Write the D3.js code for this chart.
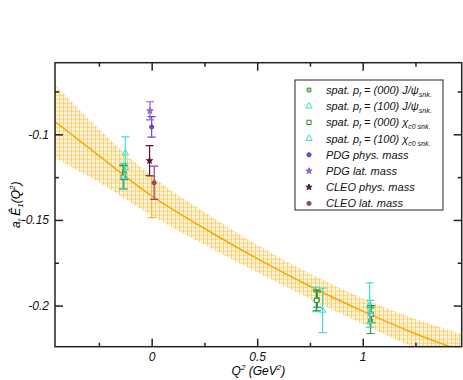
<!DOCTYPE html>
<html>
<head>
<meta charset="utf-8">
<script src="https://cdn.jsdelivr.net/npm/d3@7"></script>
<style>
  body { margin: 0; background: #fff; }
  svg { display: block; font-family: "Liberation Sans", Arial, sans-serif; }
  .tick text { font-style: italic; font-size: 12px; fill: #111; }
  .legend text { font-style: italic; font-size: 11px; fill: #111; }
</style>
</head>
<body>
<div id="chart"></div>
<script>
// fit curve and error band
var fitQ2  = [-0.46, -0.25, 0, 0.25, 0.5, 0.75, 1.0, 1.25, 1.47];
var fitMid = [-0.0924, -0.1125, -0.136, -0.155, -0.1726, -0.1887, -0.2032, -0.2164, -0.2265];
var fitErr = [0.0215, 0.0155, 0.0115, 0.0095, 0.008, 0.0073, 0.0075, 0.0085, 0.0098];

// lattice points: [Q2, value, error]
var jpsi000 = [[-0.13, -0.1225, 0.004], [0.785, -0.1965, 0.0045], [1.037, -0.2088, 0.0075]];
var jpsi100 = [[-0.125, -0.111, 0.0095], [0.778, -0.1964, 0.0072], [1.033, -0.1997, 0.013]];
var chi000  = [[-0.135, -0.125, 0.007], [0.782, -0.197, 0.006], [1.04, -0.205, 0.005]];
var chi100  = [[-0.13, -0.1245, 0.0075], [0.81, -0.2028, 0.013], [1.035, -0.2035, 0.0065]];

// experimental values at Q2 = 0
var pdgPhys  = [[0.0, -0.0957, 0.006]];
var pdgLat   = [[-0.008, -0.0863, 0.0053]];
var cleoPhys = [[-0.01, -0.1154, 0.0088]];
var cleoLat  = [[0.012, -0.1283, 0.0097]];
var fitAtZero = [[0.0, -0.1366, 0.012]];

var xMajor = [0, 0.5, 1], xMajorLabels = ["0", "0.5", "1"];
var xMinor = [-0.25, 0.25, 0.75, 1.25];
var yMajor = [-0.2, -0.15, -0.1], yMajorLabels = ["-0.2", "-0.15", "-0.1"];
var yMinor = [-0.175, -0.125, -0.075];

var svgWidth = 463, svgHeight = 380;
var margin = {top: 62.7, right: 1.3, bottom: 33.3, left: 55};
var chartWidth = svgWidth - margin.left - margin.right;
var chartHeight = svgHeight - margin.top - margin.bottom;

var svg = d3.select("#chart").append("svg")
    .attr("width", svgWidth)
    .attr("height", svgHeight);

var defs = svg.append("defs");
defs.append("clipPath").attr("id", "plotClip")
  .append("rect").attr("width", chartWidth).attr("height", chartHeight);
// xmgrace-like hatched fill
var pat = defs.append("pattern").attr("id", "bandPat")
    .attr("patternUnits", "userSpaceOnUse")
    .attr("width", 4).attr("height", 4);
pat.append("rect").attr("width", 4).attr("height", 4).attr("fill", "#fff9ec");
pat.append("path").attr("d", "M0,0.5H4M0.5,0V4")
    .attr("stroke", "#ffc44d").attr("stroke-width", 1).attr("stroke-opacity", 0.75);
pat.append("rect").attr("x", 2).attr("y", 2).attr("width", 1).attr("height", 1).attr("fill", "#ffdc99");

var chartGroup = svg.append("g")
    .attr("transform", `translate(${margin.left}, ${margin.top})`);

var x = d3.scaleLinear().domain([-0.458, 1.469]).range([0, chartWidth]);
var y = d3.scaleLinear().domain([-0.224, -0.0582]).range([chartHeight, 0]);

var fitData = fitQ2.map((q, i) => ({q: q, m: fitMid[i], e: fitErr[i]}));

var plot = chartGroup.append("g").attr("clip-path", "url(#plotClip)");

// error band
plot.append("path")
    .datum(fitData)
    .attr("fill", "url(#bandPat)")
    .attr("d", d3.area()
        .x(d => x(d.q))
        .y0(d => y(d.m - d.e))
        .y1(d => y(d.m + d.e))
        .curve(d3.curveMonotoneX));

// fit line
plot.append("path")
    .datum(fitData)
    .attr("fill", "none")
    .attr("stroke", "#ffa500")
    .attr("stroke-width", 1.5)
    .attr("d", d3.line()
        .x(d => x(d.q))
        .y(d => y(d.m))
        .curve(d3.curveMonotoneX));

function errorBars(data, color) {
    var g = plot.append("g").attr("stroke", color).attr("stroke-width", 1.2);
    data.forEach(function(d) {
        var cx = x(d[0]), y1 = y(d[1] + d[2]), y2 = y(d[1] - d[2]);
        g.append("line").attr("x1", cx).attr("x2", cx).attr("y1", y1).attr("y2", y2);
        g.append("line").attr("x1", cx - 4).attr("x2", cx + 4).attr("y1", y1).attr("y2", y1);
        g.append("line").attr("x1", cx - 4).attr("x2", cx + 4).attr("y1", y2).attr("y2", y2);
    });
}

var series = [
    {data: jpsi000, color: "#3c9c3c", shape: d3.symbolSquare, size: 14, fill: "#9ed49e", label: "spat. p", sub: "f", rest: " = (000) J/\u03c8", sub2: "snk."},
    {data: jpsi100, color: "#40e0c8", shape: d3.symbolTriangle, size: 18, fill: "none", label: "spat. p", sub: "f", rest: " = (100) J/\u03c8", sub2: "snk."},
    {data: chi000, color: "#2e8b2e", shape: d3.symbolSquare, size: 18, fill: "#fff", label: "spat. p", sub: "f", rest: " = (000) \u03c7", sub2: "c0 snk."},
    {data: chi100, color: "#48d8c8", shape: d3.symbolTriangle, size: 18, fill: "none", label: "spat. p", sub: "f", rest: " = (100) \u03c7", sub2: "c0 snk."},
    {data: pdgPhys, color: "#7040c8", shape: d3.symbolCircle, size: 14, fill: "#7040c8", label: "PDG phys. mass"},
    {data: pdgLat, color: "#9460d8", shape: d3.symbolStar, size: 12, fill: "#9460d8", label: "PDG lat. mass"},
    {data: cleoPhys, color: "#5a1434", shape: d3.symbolStar, size: 12, fill: "#5a1434", label: "CLEO phys. mass"},
    {data: cleoLat, color: "#8c4a74", shape: d3.symbolCircle, size: 14, fill: "#8c4a74", label: "CLEO lat. mass"}
];

errorBars(fitAtZero, "#ffb030");
series.forEach(function(s) {
    errorBars(s.data, s.color);
    plot.append("g").selectAll("path")
        .data(s.data)
        .enter().append("path")
        .attr("transform", d => `translate(${x(d[0])},${y(d[1])})`)
        .attr("d", d3.symbol().type(s.shape).size(s.size))
        .attr("fill", s.fill)
        .attr("stroke", s.color)
        .attr("stroke-width", 1);
});

// axes, ticks pointing inward
function addAxis(axisFn, scale, values, labels, size, transform) {
    var ax = axisFn(scale).tickValues(values).tickSize(-size).tickPadding(6)
        .tickFormat((d, i) => labels ? labels[i] : "");
    var g = chartGroup.append("g").attr("transform", transform).call(ax);
    g.select(".domain").remove();
    g.selectAll(".tick line").attr("stroke", "#222").attr("stroke-width", 1.5);
    return g;
}
addAxis(d3.axisBottom, x, xMajor, xMajorLabels, 8, `translate(0,${chartHeight})`);
addAxis(d3.axisBottom, x, xMinor, null, 4, `translate(0,${chartHeight})`);
addAxis(d3.axisTop, x, xMajor, null, 8, "translate(0,0)");
addAxis(d3.axisTop, x, xMinor, null, 4, "translate(0,0)");
addAxis(d3.axisLeft, y, yMajor, yMajorLabels, 8, "translate(0,0)");
addAxis(d3.axisLeft, y, yMinor, null, 4, "translate(0,0)");
addAxis(d3.axisRight, y, yMajor, null, 8, `translate(${chartWidth},0)`);
addAxis(d3.axisRight, y, yMinor, null, 4, `translate(${chartWidth},0)`);

chartGroup.append("rect")
    .attr("width", chartWidth).attr("height", chartHeight)
    .attr("fill", "none").attr("stroke", "#222").attr("stroke-width", 1.5);

// axis labels
var xLabel = svg.append("text")
    .attr("x", margin.left + chartWidth / 2)
    .attr("y", 375)
    .attr("text-anchor", "middle")
    .attr("font-size", 12)
    .attr("font-style", "italic");
xLabel.append("tspan").text("Q");
xLabel.append("tspan").attr("dy", -5).attr("font-size", 8).text("2");
xLabel.append("tspan").attr("dy", 5).text(" (GeV");
xLabel.append("tspan").attr("dy", -5).attr("font-size", 8).text("2");
xLabel.append("tspan").attr("dy", 5).text(")");

var yLabel = svg.append("text")
    .attr("transform", `translate(20, ${margin.top + chartHeight / 2}) rotate(-90)`)
    .attr("text-anchor", "middle")
    .attr("font-size", 12)
    .attr("font-style", "italic");
yLabel.append("tspan").text("a");
yLabel.append("tspan").attr("dy", 3).attr("font-size", 8).text("t");
yLabel.append("tspan").attr("dy", -3).text(" \u00ca");
yLabel.append("tspan").attr("dy", 3).attr("font-size", 8).text("1");
yLabel.append("tspan").attr("dy", -3).text("(Q");
yLabel.append("tspan").attr("dy", -5).attr("font-size", 8).text("2");
yLabel.append("tspan").attr("dy", 5).text(")");

// legend
var legend = svg.append("g").attr("class", "legend");
legend.append("rect")
    .attr("x", 295).attr("y", 80).attr("width", 148).attr("height", 130)
    .attr("fill", "#fff").attr("stroke", "#222").attr("stroke-width", 1);
series.forEach(function(s, i) {
    var ly = 90 + i * 16.2;
    legend.append("path")
        .attr("transform", `translate(309,${ly})`)
        .attr("d", d3.symbol().type(s.shape).size(s.size))
        .attr("fill", s.fill)
        .attr("stroke", s.color)
        .attr("stroke-width", 1);
    var t = legend.append("text").attr("x", 326).attr("y", ly + 4);
    t.append("tspan").text(s.label);
    if (s.sub) {
        t.append("tspan").attr("dy", 3).attr("font-size", 7).text(s.sub);
        t.append("tspan").attr("dy", -3).text(s.rest);
        t.append("tspan").attr("dy", 3).attr("font-size", 7).text(s.sub2);
    }
});
</script>
</body>
</html>
